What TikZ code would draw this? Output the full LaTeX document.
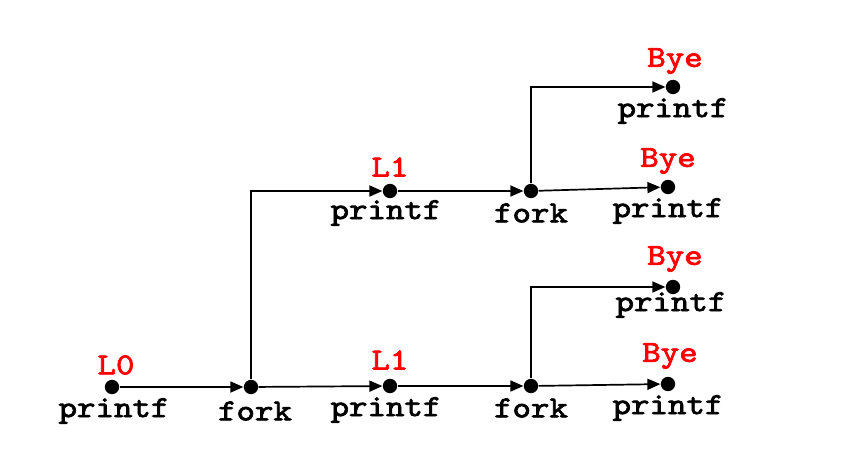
\documentclass[tikz,border=0pt]{standalone}
\usepackage{fontspec}
\setmonofont[FakeBold=2.4, FakeStretch=1.15]{lmmono10-regular.otf}
\usetikzlibrary{arrows.meta, positioning}
\definecolor{tagred}{HTML}{FF0000}

\begin{document}
\begin{tikzpicture}[x=0.5pt, y=-0.5pt,
  event/.style={circle, fill=black, inner sep=0pt, minimum size=7.2pt},
  call/.style={font=\fontsize{15.3}{18}\selectfont\ttfamily, inner sep=0pt},
  tag/.style={call, text=tagred},
  flow/.style={-{Triangle[length=6.5pt, width=5.5pt]}, line width=0.85pt}
]
  \useasboundingbox (0,0) rectangle (848,455);

  % events
  \node[event] (l0) at (112, 387) {};
  \node[event] (fa) at (251, 387) {};
  \node[event] (pa) at (390, 386) {};
  \node[event] (fb) at (531, 386) {};
  \node[event] (pb) at (390, 191) {};
  \node[event] (fc) at (531, 191) {};
  \node[event] (by1) at (673, 87) {};
  \node[event] (by2) at (668, 187) {};
  \node[event] (by3) at (673, 287) {};
  \node[event] (by4) at (668, 384) {};

  % labels
  \node[tag] (l0tag) at ([xshift=2pt, yshift=11pt]l0.center) {L0};
  \node[call] (l0call) at ([xshift=1pt, yshift=-12pt]l0.center) {printf};
  \node[call] (facall) at ([xshift=2pt, yshift=-12pt]fa.center) {fork};
  \node[tag] (patag) at ([yshift=13pt]pa.center) {L1};
  \node[call] (pacall) at ([xshift=-2pt, yshift=-12pt]pa.center) {printf};
  \node[call] (fbcall) at ([yshift=-11pt]fb.center) {fork};
  \node[tag] (pbtag) at ([yshift=12pt]pb.center) {L1};
  \node[call] (pbcall) at ([xshift=-2pt, yshift=-11pt]pb.center) {printf};
  \node[call] (fccall) at ([yshift=-11pt]fc.center) {fork};
  \node[tag] (by1tag) at ([xshift=1pt, yshift=13pt]by1.center) {Bye};
  \node[call] (by1call) at ([yshift=-12pt]by1.center) {printf};
  \node[tag] (by2tag) at ([yshift=13pt]by2.center) {Bye};
  \node[call] (by2call) at ([yshift=-12pt]by2.center) {printf};
  \node[tag] (by3tag) at ([xshift=1pt, yshift=14pt]by3.center) {Bye};
  \node[call] (by3call) at ([xshift=-1pt, yshift=-9pt]by3.center) {printf};
  \node[tag] (by4tag) at ([xshift=1pt, yshift=14pt]by4.center) {Bye};
  \node[call] (by4call) at ([yshift=-12pt]by4.center) {printf};

  % flows
  \draw[flow] (l0) -- (fa);
  \draw[flow] (fa) -- (pa);
  \draw[flow] (fa) |- (pb);
  \draw[flow] (pa) -- (fb);
  \draw[flow] (pb) -- (fc);
  \draw[flow] (fb) -- (by4);
  \draw[flow] (fb) |- (by3);
  \draw[flow] (fc) -- (by2);
  \draw[flow] (fc) |- (by1);
\end{tikzpicture}
\end{document}
